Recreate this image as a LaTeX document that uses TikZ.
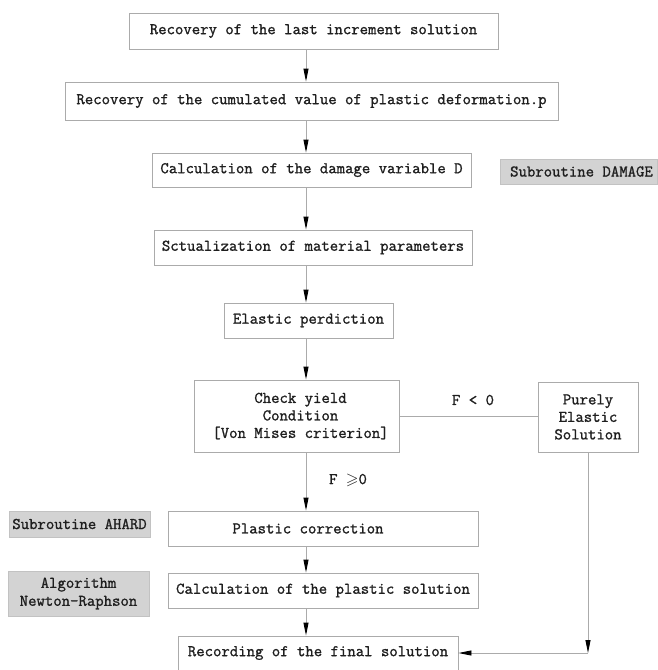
\documentclass[tikz,border=0pt]{standalone}
\usepackage{fontspec}
\usepackage{amssymb}
\setmainfont{Latin Modern Mono}[FakeBold=1.2]
\usetikzlibrary{arrows.meta}
\definecolor{boxline}{HTML}{ABABAB}
\definecolor{subfill}{HTML}{D3D3D3}
\definecolor{txt}{HTML}{1E1E1E}
\begin{document}
\begin{tikzpicture}[x=1pt,y=-1pt,
  every node/.style={font=\fontsize{16.3}{17.5}\selectfont, text=txt, inner sep=0pt},
  flowbox/.style={draw=boxline, line width=0.9pt, fill=white, align=center},
  subbox/.style={fill=subfill, draw=subfill!92!black, line width=0.6pt, align=center},
  conn/.style={draw=boxline, line width=0.9pt},
  arr/.style={conn, -{Triangle[length=13pt,width=5pt,color=black]}},
  lbl/.style={fill=none}]
\useasboundingbox (0,0) rectangle (657,670);
\fill[white] (0,0) rectangle (657,670);

\node[flowbox, minimum width=369pt, minimum height=36pt] (b1) at (313.5,31) {Recovery of the last increment solution};
\node[flowbox, minimum width=493pt, minimum height=38pt] (b2) at (311.5,101) {Recovery of the cumulated value of plastic deformation.p};
\node[flowbox, minimum width=319pt, minimum height=34pt] (b3) at (311.5,170) {Calculation of the damage variable D};
\node[subbox, minimum width=157pt, minimum height=25pt] (dmg) at (578.5,171.5) {\hspace*{6pt}Subroutine DAMAGE};
\node[flowbox, minimum width=318pt, minimum height=35pt] (b4) at (313,247.5) {Sctualization of material parameters};
\node[flowbox, minimum width=169pt, minimum height=35pt] (b5) at (308.5,320.5) {Elastic perdiction};
\node[flowbox, minimum width=205pt, minimum height=72pt] (b6) at (296.5,416) {\hspace*{8pt}Check yield\\\hspace*{8pt}Condition\\\hspace*{8pt}[Von Mises criterion]};
\node[flowbox, minimum width=100pt, minimum height=70pt] (pe) at (588,417) {Purely\\Elastic\\Solution};
\node[flowbox, minimum width=310pt, minimum height=35pt] (b7) at (323,528.5) {\hspace*{-30pt}Plastic correction};
\node[subbox, minimum width=141pt, minimum height=26pt] (ah) at (79.5,524) {Subroutine AHARD};
\node[flowbox, minimum width=310pt, minimum height=35pt] (b8) at (323,590.5) {Calculation of the plastic solution};
\node[subbox, minimum width=141pt, minimum height=45pt, font=\fontsize{16.3}{18}\selectfont] (nr) at (78.5,593.5) {Algorithm\\Newton-Raphson};
\node[flowbox, minimum width=280pt, minimum height=34pt] (b9) at (318,653) {Recording of the final solution};

\coordinate (cx) at (306,0);
\coordinate (corner) at (588,653);

\draw[arr] (b1.south -| cx) -- (b2.north -| cx);
\draw[arr] (b2.south -| cx) -- (b3.north -| cx);
\draw[arr] (b3.south -| cx) -- (b4.north -| cx);
\draw[arr] (b4.south -| cx) -- (b5.north -| cx);
\draw[arr] (b5.south -| cx) -- (b6.north -| cx);
\draw[arr] (b6.south -| cx) -- (b7.north -| cx);
\draw[arr] (b7.south -| cx) -- (b8.north -| cx);
\draw[arr] (b8.south -| cx) -- (b9.north -| cx);
\draw[conn] (b6.east) -- (b6.east -| pe.west);
\draw[arr] (pe.south) -- (corner);
\draw[arr] (corner) -- (b9.east);

\node[lbl] (lt) at (473,400) {F < 0};
\node[lbl] (ge) at (348,480) {F $\geqslant$0};
\end{tikzpicture}
\end{document}
